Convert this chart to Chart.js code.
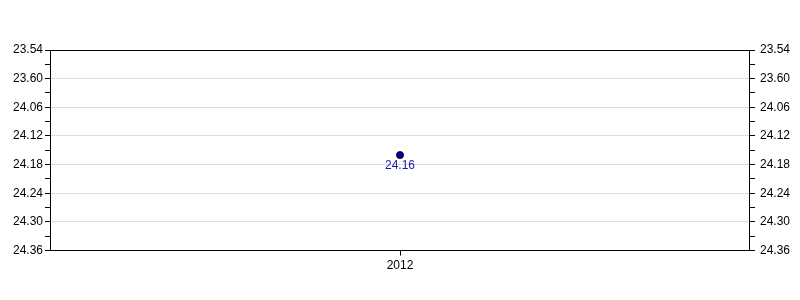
<!DOCTYPE html>
<html>
<head>
<meta charset="utf-8">
<script src="https://cdn.jsdelivr.net/npm/chart.js@4"></script>
<style>
  html, body { margin: 0; padding: 0; background: #fff; }
  #wrap { width: 800px; height: 300px; }
</style>
</head>
<body>
<div id="wrap"><canvas id="chart" width="800" height="300"></canvas></div>
<script>
// values read as minutes.seconds
var categories = ['2012'];
var values = ['24.16'];
var tickLabels = ['23.54', '23.60', '24.06', '24.12', '24.18', '24.24', '24.30', '24.36'];

// "mm.ss" -> seconds, so the axis stays linear
function toSec(s) {
    var p = s.split('.');
    return parseInt(p[0], 10) * 60 + parseInt(p[1], 10);
}

var tickSecs = tickLabels.map(toSec);
var yMin = tickSecs[0], yMax = tickSecs[tickSecs.length - 1];
var step = tickSecs[1] - tickSecs[0];

function buildTicks(axis) {
    var t = [];
    for (var v = yMin; v <= yMax; v += step / 2) t.push({ value: v });
    axis.ticks = t;
}
function tickLabel(value) {
    var i = tickSecs.indexOf(value);
    return i >= 0 ? tickLabels[i] : '';
}
function isMajor(ctx) {
    return ctx.tick && tickSecs.indexOf(ctx.tick.value) >= 0;
}

var font = { family: 'Liberation Sans, Arial, sans-serif', size: 12 };

var frame = {
    id: 'frame',
    afterDatasetsDraw: function (chart) {
        var a = chart.chartArea, c = chart.ctx;
        c.save();
        c.strokeStyle = '#000';
        c.lineWidth = 1;
        c.strokeRect(Math.round(a.left) + 0.5, Math.round(a.top) + 0.5,
            Math.round(a.right - a.left) - 1, Math.round(a.bottom - a.top) - 1);
        // value labels under the points
        var meta = chart.getDatasetMeta(0);
        c.fillStyle = '#1c1ca0';
        c.font = '12px ' + font.family;
        c.textAlign = 'center';
        c.textBaseline = 'top';
        meta.data.forEach(function (pt, i) {
            c.fillText(values[i], pt.x, pt.y + 5);
        });
        c.restore();
    }
};

new Chart(document.getElementById('chart'), {
    type: 'line',
    data: {
        labels: categories,
        datasets: [{
            data: values.map(toSec),
            showLine: false,
            pointRadius: 3.5,
            pointBackgroundColor: '#000080',
            pointBorderColor: '#000033',
            pointBorderWidth: 1
        }]
    },
    plugins: [frame],
    options: {
        responsive: false,
        animation: false,
        layout: { padding: { top: 50, left: 11, right: 5, bottom: 24 } },
        plugins: { legend: { display: false }, tooltip: { enabled: false } },
        scales: {
            x: {
                offset: true,
                grid: { display: true, drawOnChartArea: false, tickLength: 5, color: '#000' },
                border: { color: '#000' },
                ticks: { color: '#000', font: font, padding: 3 }
            },
            y: {
                position: 'left',
                reverse: true,
                min: yMin, max: yMax,
                afterBuildTicks: buildTicks,
                grid: {
                    tickLength: 5,
                    color: function (ctx) { return isMajor(ctx) ? '#dcdcdc' : 'rgba(0,0,0,0)'; },
                    tickColor: '#000'
                },
                border: { color: '#000' },
                ticks: { color: '#000', font: font, padding: 2, autoSkip: false, callback: tickLabel }
            },
            y2: {
                position: 'right',
                reverse: true,
                min: yMin, max: yMax,
                afterBuildTicks: buildTicks,
                grid: { drawOnChartArea: false, tickLength: 5, tickColor: '#000' },
                border: { color: '#000' },
                ticks: { color: '#000', font: font, padding: 5, autoSkip: false, callback: tickLabel }
            }
        }
    }
});
</script>
</body>
</html>
